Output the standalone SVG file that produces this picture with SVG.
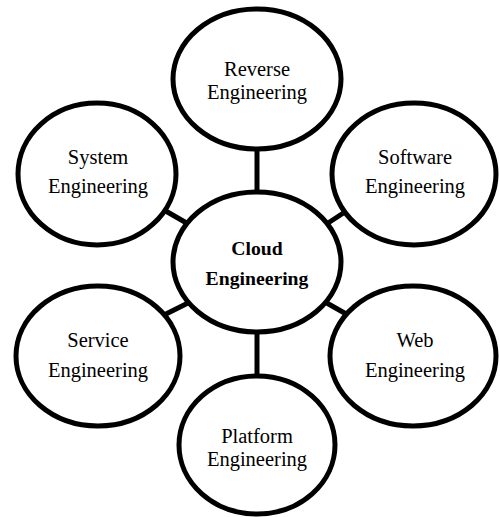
<svg xmlns="http://www.w3.org/2000/svg" width="500" height="517" viewBox="0 0 500 517">
<style>
.n{fill:#fff;stroke:#000;stroke-width:5}
.c{stroke:#000;stroke-width:5;fill:none}
.t{font-family:'Liberation Serif','Times New Roman',Times,'DejaVu Serif',serif;font-size:20.5px;fill:#000;text-anchor:middle}
.b{font-weight:bold;font-size:19.7px}
</style>
<rect width="500" height="517" fill="#fff"/>
<g id="connectors">
<line class="c" x1="257" y1="148" x2="257" y2="194"/>
<line class="c" x1="257" y1="331" x2="257" y2="377"/>
<line class="c" x1="164" y1="210" x2="190" y2="225"/>
<line class="c" x1="348" y1="210" x2="325" y2="225"/>
<line class="c" x1="164" y1="315" x2="190" y2="302"/>
<line class="c" x1="325" y1="302" x2="348" y2="315"/>
</g>
<g id="reverse"><ellipse class="n" cx="257" cy="79" rx="84" ry="70"/><text class="t" x="257" y="76">Reverse</text><text class="t" x="257" y="99">Engineering</text></g>
<g id="system"><ellipse class="n" cx="97" cy="174" rx="79" ry="71"/><text class="t" x="98" y="164">System</text><text class="t" x="98" y="193">Engineering</text></g>
<g id="software"><ellipse class="n" cx="414" cy="174" rx="82" ry="71"/><text class="t" x="415" y="164">Software</text><text class="t" x="415" y="193">Engineering</text></g>
<g id="cloud"><ellipse class="n" cx="257" cy="262" rx="84" ry="70"/><text class="t b" x="257" y="255">Cloud</text><text class="t b" x="257" y="285">Engineering</text></g>
<g id="service"><ellipse class="n" cx="98" cy="356" rx="82" ry="70"/><text class="t" x="98" y="347">Service</text><text class="t" x="98" y="377">Engineering</text></g>
<g id="web"><ellipse class="n" cx="413" cy="356" rx="83" ry="70"/><text class="t" x="415" y="347">Web</text><text class="t" x="415" y="377">Engineering</text></g>
<g id="platform"><ellipse class="n" cx="257" cy="445" rx="78" ry="69"/><text class="t" x="257" y="443">Platform</text><text class="t" x="257" y="466">Engineering</text></g>
</svg>
